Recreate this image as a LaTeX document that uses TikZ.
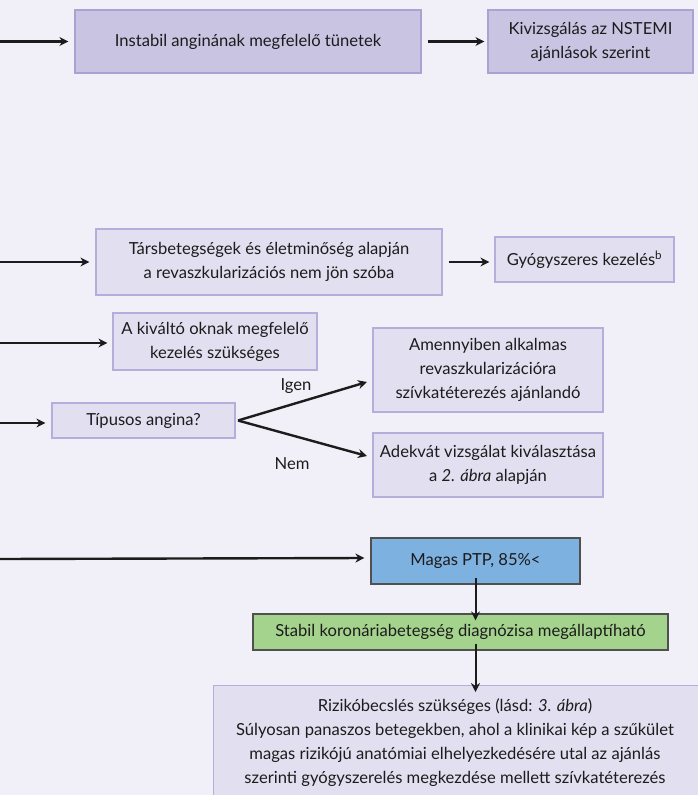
\documentclass[tikz,border=0pt]{standalone}
\usepackage{fontspec}
\setmainfont{Lato}
\usetikzlibrary{arrows.meta}
\definecolor{bg}{HTML}{F1F0F8}
\definecolor{darkfill}{HTML}{C8C4E2}
\definecolor{darkline}{HTML}{A8A4D2}
\definecolor{lightfill}{HTML}{E2E0F0}
\definecolor{lightline}{HTML}{B3AEDA}
\definecolor{bluefill}{HTML}{7DB1DF}
\definecolor{greenfill}{HTML}{A3D38D}
\definecolor{edge}{HTML}{505050}
\definecolor{ink}{HTML}{1E1B1C}
\tikzset{
  base/.style={line width=1.2pt, inner sep=0pt, align=center, font=\fontsize{16.6}{24}\selectfont, text=ink},
  darkbox/.style={base, draw=darkline, fill=darkfill},
  lightbox/.style={base, draw=lightline, fill=lightfill},
  bluebox/.style={base, draw=edge, fill=bluefill},
  greenbox/.style={base, draw=edge, fill=greenfill},
  conn/.style={draw=ink, line width=2.4pt, -{Stealth[length=9pt,width=9pt]}},
  lbl/.style={font=\fontsize{16.6}{20}\selectfont, text=ink, inner sep=0pt},
}
\begin{document}
\begin{tikzpicture}[x=1pt,y=-1pt]
\fill[bg] (0,0) rectangle (698,795);
\useasboundingbox (0,0) rectangle (698,795);
% row 1
\node[darkbox, minimum width=346, minimum height=63] (unstable) at (248,41.5) {Instabil anginának megfelelő tünetek};
\node[darkbox, minimum width=205, minimum height=63] (nstemi) at (590.5,41.5) {Kivizsgálás az NSTEMI\\ajánlások szerint};
\coordinate (s1) at (0,41.5);
\draw[conn] (s1) -- ([xshift=-6]unstable.west);
\draw[conn] ([xshift=6]unstable.east) -- ([xshift=-3]nstemi.west);
% row 2
\node[lightbox, minimum width=346, minimum height=66] (comorb) at (269,262) {Társbetegségek és életminőség alapján\\a revaszkularizációs nem jön szóba};
\node[lightbox, minimum width=179, minimum height=45] (drug) at (584.5,259.5) {Gyógyszeres kezelés\textsuperscript{b}};
\coordinate (s2) at (0,262);
\draw[conn] (s2) -- ([xshift=-6]comorb.west);
\draw[conn] ([xshift=6]comorb.east) -- ([xshift=-5]drug.west |- comorb.east);
% row 3
\node[lightbox, minimum width=204, minimum height=57] (cause) at (215,341.5) {A kiváltó oknak megfelelő\\kezelés szükséges};
\coordinate (s3) at (0,343);
\draw[conn] (s3) -- ([xshift=-5]cause.west |- s3);
\node[lightbox, minimum width=230, minimum height=84] (cath) at (488,370) {Amennyiben alkalmas\\revaszkularizációra\\szívkatéterezés ajánlandó};
\node[lightbox, minimum width=183, minimum height=35] (typical) at (143.5,420.5) {Típusos angina?};
\coordinate (s4) at (0,423);
\draw[conn] (s4) -- ([xshift=-6]typical.west |- s4);
\node[lightbox, minimum width=230, minimum height=64] (test) at (488,465) {Adekvát vizsgálat kiválasztása\\a \textit{2. ábra} alapján};
\coordinate (fork) at (238,420.5);
\coordinate (yesend) at (367,382);
\coordinate (noend) at (367,456);
\draw[conn] (fork) -- (yesend);
\draw[conn] (fork) -- (noend);
\node[lbl] (igen) at (296,386) {Igen};
\node[lbl] (nem) at (292,464) {Nem};
% lower part
\node[bluebox, minimum width=209, minimum height=46] (ptp) at (475.5,561) {Magas PTP, 85\%<};
\coordinate (s5) at (0,559);
\draw[conn] (s5) -- ([xshift=-6,yshift=3]ptp.west);
\node[greenbox, minimum width=415, minimum height=36] (cad) at (460.5,632) {Stabil koronáriabetegség diagnózisa megállaptíható};
\coordinate (d1a) at ([yshift=7]ptp.south);
\coordinate (d1b) at ([yshift=-7]ptp.south |- cad.north);
\draw[conn, line width=2pt] (d1a) -- (d1b);
\node[lightbox, anchor=north west, minimum width=520, minimum height=130] (risk) at (213,685) {};
\node[base, anchor=center] (risktext) at (455,743) {Rizikóbecslés szükséges (lásd: \textit{3. ábra})\\Súlyosan panaszos betegekben, ahol a klinikai kép a szűkület\\magas rizikójú anatómiai elhelyezkedésére utal az ajánlás\\szerinti gyógyszerelés megkezdése mellett szívkatéterezés};
\coordinate (d2a) at ([yshift=7]ptp.south |- cad.south);
\coordinate (d2b) at ([yshift=-7]ptp.south |- risk.north);
\draw[conn, line width=2pt] (d2a) -- (d2b);
\end{tikzpicture}
\end{document}
